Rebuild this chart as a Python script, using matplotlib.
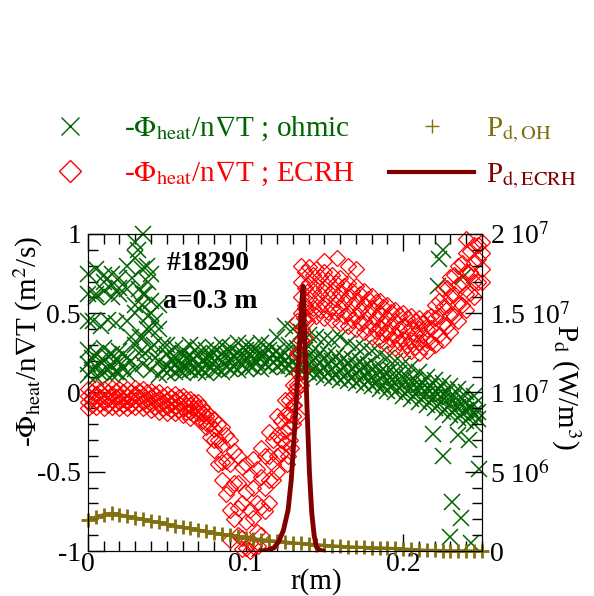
import matplotlib
matplotlib.use("Agg")
import matplotlib.pyplot as plt
from matplotlib.lines import Line2D
from matplotlib.ticker import MultipleLocator

plt.rcParams["font.family"] = ["Liberation Serif", "DejaVu Serif"]
plt.rcParams["mathtext.fontset"] = "stix"
plt.rcParams["axes.unicode_minus"] = False

GREEN = "#006400"
RED = "#ff0000"
OLIVE = "#807010"
DARKRED = "#800000"

# radial grids (m): most profiles sit on r_grid, the others on r_half
r_grid = [0.000, 0.005, 0.010, 0.015, 0.020, 0.025, 0.030, 0.035, 0.040, 0.045,
          0.050, 0.055, 0.060, 0.065, 0.070, 0.075, 0.080, 0.085, 0.090, 0.095,
          0.100, 0.105, 0.110, 0.115, 0.120, 0.125, 0.130, 0.135, 0.140, 0.145,
          0.150, 0.155, 0.160, 0.165, 0.170, 0.175, 0.180, 0.185, 0.190, 0.195,
          0.200, 0.205, 0.210, 0.215, 0.220, 0.225, 0.230, 0.235, 0.240, 0.245,
          0.250]
r_half = [0.0025, 0.0075, 0.0125, 0.0175, 0.0225, 0.0275, 0.0325, 0.0375, 0.0425, 0.0475,
          0.0525, 0.0575, 0.0625, 0.0675, 0.0725, 0.0775, 0.0825, 0.0875, 0.0925, 0.0975,
          0.1025, 0.1075, 0.1125, 0.1175, 0.1225, 0.1275, 0.1325, 0.1375, 0.1425, 0.1475,
          0.1525, 0.1575, 0.1625, 0.1675, 0.1725, 0.1775, 0.1825, 0.1875, 0.1925, 0.1975,
          0.2025, 0.2075, 0.2125, 0.2175, 0.2225, 0.2275, 0.2325, 0.2375, 0.2425, 0.2475]

# -Phi_heat / n grad T, ohmic phase (m^2/s); time slices on r_grid[:50]
ohm_low = [0.11, 0.10, 0.13, 0.11, 0.12, 0.12, 0.15, 0.18, 0.14, 0.11,
           0.12, 0.13, 0.12, 0.14, 0.13, 0.12, 0.14, 0.13, 0.15, 0.14,
           0.15, 0.16, 0.15, 0.16, 0.17, 0.16, 0.15, 0.14, 0.12, 0.11,
           0.10, 0.09, 0.08, 0.07, 0.06, 0.05, 0.04, 0.02, 0.01, 0.00,
           -0.02, -0.04, -0.06, -0.08, -0.10, -0.12, -0.14, -0.16, -0.18, -0.20]
ohm_mid = [0.18, 0.16, 0.20, 0.17, 0.19, 0.22, 0.30, 0.35, 0.28, 0.20,
           0.17, 0.18, 0.16, 0.19, 0.17, 0.18, 0.20, 0.19, 0.21, 0.20,
           0.22, 0.21, 0.23, 0.22, 0.21, 0.20, 0.20, 0.19, 0.18, 0.17,
           0.16, 0.15, 0.14, 0.13, 0.12, 0.11, 0.10, 0.09, 0.08, 0.06,
           0.05, 0.03, 0.01, -0.01, -0.03, -0.05, -0.07, -0.09, -0.11, -0.13]
ohm_high = [0.27, 0.25, 0.28, 0.24, 0.26, 0.45, 0.55, 0.62, 0.50, 0.40,
            0.24, 0.22, 0.25, 0.23, 0.24, 0.22, 0.25, 0.24, 0.26, 0.25,
            0.27, 0.26, 0.25, 0.27, 0.26, 0.25, 0.25, 0.24, 0.23, 0.22,
            0.21, 0.20, 0.19, 0.18, 0.17, 0.16, 0.14, 0.13, 0.12, 0.10,
            0.09, 0.07, 0.05, 0.03, 0.01, -0.01, -0.03, -0.05, -0.06, -0.08]
ohm_top = [0.45, 0.62, 0.70, 0.75, 0.66, 0.80, 0.95, 1.00, 0.75, 0.55,
           0.30, 0.28, 0.27, 0.30, 0.29, 0.27, 0.28, 0.30, 0.29, 0.31,
           0.30, 0.29, 0.31, 0.30, 0.35, 0.42, 0.40, 0.38, 0.36, 0.35,
           0.34, 0.33, 0.35, 0.31, 0.29, 0.28, 0.26, 0.24, 0.22, 0.20,
           0.18, 0.16, 0.13, 0.10, 0.08, 0.06, 0.04, 0.02, 0.00, -0.02]
# time slices on r_half
ohm_half_a = [0.14, 0.12, 0.15, 0.13, 0.16, 0.20, 0.25, 0.40, 0.22, 0.15,
              0.15, 0.14, 0.16, 0.15, 0.14, 0.16, 0.15, 0.17, 0.16, 0.18,
              0.17, 0.19, 0.18, 0.19, 0.18, 0.17, 0.16, 0.15, 0.14, 0.13,
              0.12, 0.11, 0.10, 0.09, 0.08, 0.07, 0.06, 0.05, 0.04, 0.03,
              0.01, -0.01, -0.03, -0.05, -0.07, -0.09, -0.11, -0.13, -0.15, -0.17]
ohm_half_b = [0.22, 0.20, 0.23, 0.21, 0.24, 0.35, 0.65, 0.80, 0.45, 0.30,
              0.21, 0.20, 0.22, 0.21, 0.20, 0.23, 0.22, 0.24, 0.23, 0.25,
              0.24, 0.26, 0.25, 0.24, 0.23, 0.30, 0.28, 0.27, 0.26, 0.25,
              0.24, 0.23, 0.22, 0.21, 0.20, 0.18, 0.17, 0.15, 0.14, 0.12,
              0.10, 0.08, 0.06, 0.04, 0.02, 0.00, -0.02, -0.04, -0.10, -0.12]
# near-axis rows, the spike at r~0.035 and the scattered edge points
ohm_extra_r = [0.000, 0.005, 0.010, 0.015, 0.020, 0.000, 0.005, 0.010, 0.015, 0.020,
               0.003, 0.008, 0.013, 0.018, 0.025, 0.028, 0.030, 0.032, 0.034, 0.036,
               0.038, 0.040, 0.042, 0.030, 0.034, 0.038, 0.033, 0.036, 0.040, 0.219,
               0.225, 0.231, 0.237, 0.230, 0.243, 0.248, 0.235, 0.242, 0.225, 0.223,
               0.222, 0.238]
ohm_extra_v = [0.75, 0.78, 0.74, 0.68, 0.72, 0.62, 0.60, 0.64, 0.60, 0.62,
               0.45, 0.42, 0.46, 0.44, 0.65, 0.72, 0.85, 0.90, 0.78, 0.62,
               0.48, 0.40, 0.30, 0.50, 0.55, 0.70, 0.35, 0.25, 0.58, -0.26,
               -0.40, -0.69, -0.79, -0.91, -0.95, -0.48, -0.27, -0.30, 0.90, 0.84,
               0.67, 0.73]

# -Phi_heat / n grad T, ECRH phase (m^2/s); time slices on r_grid, upper to lower
ecrh_1 = [0.02, 0.03, 0.02, 0.03, 0.02, 0.02, 0.03, 0.02, 0.01, 0.00,
          -0.01, -0.01, -0.02, -0.04, -0.06, -0.12, -0.17, -0.22, -0.30, -0.40,
          -0.45, -0.42, -0.35, -0.25, -0.15, -0.05, 0.05, 0.80, 0.79, 0.78,
          0.76, 0.74, 0.72, 0.69, 0.67, 0.64, 0.61, 0.58, 0.55, 0.52,
          0.50, 0.48, 0.47, 0.47, 0.55, 0.65, 0.73, 0.80, 0.88, 0.93, 0.95]
ecrh_3 = [-0.02, -0.01, -0.02, -0.01, -0.02, -0.02, -0.01, -0.02, -0.03, -0.04,
          -0.05, -0.05, -0.06, -0.08, -0.10, -0.15, -0.23, -0.33, -0.45, -0.57,
          -0.63, -0.60, -0.53, -0.40, -0.27, -0.14, -0.02, 0.70, 0.69, 0.68,
          0.66, 0.64, 0.63, 0.60, 0.58, 0.55, 0.53, 0.50, 0.47, 0.45,
          0.42, 0.41, 0.40, 0.40, 0.47, 0.54, 0.61, 0.68, 0.76, 0.82, 0.88]
ecrh_5 = [-0.06, -0.05, -0.06, -0.05, -0.06, -0.06, -0.05, -0.06, -0.07, -0.08,
          -0.09, -0.09, -0.10, -0.12, -0.13, -0.19, -0.30, -0.44, -0.60, -0.73,
          -0.82, -0.79, -0.72, -0.55, -0.40, -0.24, -0.08, 0.60, 0.59, 0.58,
          0.56, 0.54, 0.53, 0.50, 0.48, 0.45, 0.43, 0.41, 0.38, 0.36,
          0.34, 0.33, 0.32, 0.33, 0.38, 0.43, 0.49, 0.56, 0.62, 0.70, 0.78]
ecrh_7 = [-0.10, -0.09, -0.10, -0.09, -0.10, -0.10, -0.09, -0.10, -0.11, -0.12,
          -0.13, -0.13, -0.14, -0.16, -0.17, -0.22, -0.36, -0.55, -0.74, -0.90,
          -0.98, -0.97, -0.90, -0.70, -0.50, -0.32, -0.15, 0.50, 0.49, 0.48,
          0.47, 0.46, 0.44, 0.42, 0.40, 0.38, 0.35, 0.33, 0.30, 0.28,
          0.27, 0.26, 0.25, 0.26, 0.30, 0.33, 0.38, 0.45, 0.52, 0.60, 0.70]
# time slices on r_half
ecrh_2 = [0.00, 0.01, 0.00, 0.01, 0.00, 0.00, 0.01, 0.00, -0.01, -0.02,
          -0.03, -0.03, -0.04, -0.06, -0.09, -0.15, -0.20, -0.27, -0.37, -0.47,
          -0.52, -0.48, -0.40, -0.30, -0.18, -0.05, 0.45, 0.76, 0.74, 0.73,
          0.71, 0.69, 0.67, 0.64, 0.62, 0.59, 0.57, 0.54, 0.51, 0.49,
          0.47, 0.45, 0.44, 0.48, 0.58, 0.66, 0.74, 0.82, 0.89, 0.93]
ecrh_4 = [-0.04, -0.03, -0.04, -0.03, -0.04, -0.04, -0.03, -0.04, -0.05, -0.06,
          -0.07, -0.07, -0.08, -0.10, -0.13, -0.20, -0.30, -0.43, -0.57, -0.70,
          -0.74, -0.70, -0.60, -0.45, -0.30, -0.14, 0.25, 0.66, 0.64, 0.62,
          0.61, 0.59, 0.57, 0.55, 0.52, 0.50, 0.47, 0.44, 0.42, 0.40,
          0.38, 0.37, 0.36, 0.41, 0.48, 0.55, 0.62, 0.70, 0.76, 0.84]
ecrh_6 = [-0.08, -0.07, -0.08, -0.07, -0.08, -0.08, -0.07, -0.08, -0.09, -0.10,
          -0.11, -0.11, -0.12, -0.14, -0.18, -0.28, -0.45, -0.64, -0.80, -0.92,
          -0.95, -0.88, -0.75, -0.55, -0.38, -0.22, 0.05, 0.55, 0.53, 0.52,
          0.51, 0.50, 0.48, 0.46, 0.44, 0.41, 0.39, 0.37, 0.34, 0.32,
          0.30, 0.29, 0.29, 0.32, 0.36, 0.42, 0.48, 0.55, 0.63, 0.70]
# the jump at the deposition radius and a few stray points
ecrh_extra_r = [0.128, 0.130, 0.131, 0.132, 0.133, 0.134, 0.135, 0.136, 0.137, 0.138,
                0.126, 0.127, 0.129, 0.133, 0.135, 0.136, 0.138, 0.139,
                0.150, 0.158, 0.165, 0.170, 0.240, 0.090, 0.098, 0.103, 0.108]
ecrh_extra_v = [-0.30, -0.20, -0.08, 0.02, 0.12, 0.25, 0.33, 0.40, 0.47, 0.53,
                -0.45, -0.40, -0.35, -0.15, 0.05, 0.15, 0.35, 0.45,
                0.83, 0.85, 0.80, 0.78, 0.97, -0.93, -0.99, -1.00, -0.97]

# ohmic power density (10^6 W/m^3), on r_grid
p_oh = [1.96, 2.15, 2.30, 2.38, 2.30, 2.18, 2.10, 2.00, 1.88, 1.80,
        1.70, 1.60, 1.50, 1.42, 1.33, 1.24, 1.15, 1.06, 0.98, 0.92,
        0.85, 0.78, 0.72, 0.66, 0.62, 0.57, 0.52, 0.48, 0.44, 0.40,
        0.36, 0.33, 0.30, 0.27, 0.25, 0.23, 0.21, 0.20, 0.18, 0.16,
        0.13, 0.10, 0.07, 0.05, 0.04, 0.03, 0.02, 0.02, 0.01, 0.01,
        0.01]

# ECRH power density (10^6 W/m^3)
r_ecrh = [0.110, 0.114, 0.118, 0.121, 0.124, 0.127, 0.129, 0.131, 0.1325, 0.134,
          0.1355, 0.1365, 0.1375, 0.139, 0.1405, 0.142, 0.1435, 0.145, 0.147, 0.149]
p_ecrh = [0.0, 0.05, 0.2, 0.6, 1.3, 2.6, 4.5, 7.5, 10.0, 12.5,
          15.5, 16.7, 13.5, 9.0, 5.0, 2.4, 1.0, 0.25, 0.05, 0.0]

x_ticks = [0, 0.1, 0.2]
x_tick_labels = ["0", "0.1", "0.2"]
y_ticks = [-1, -0.5, 0, 0.5, 1]
y_tick_labels = ["-1", "-0.5", "0", "0.5", "1"]
p_ticks = [0, 5e6, 1e7, 1.5e7, 2e7]
p_tick_labels = ["0", "5 10$^{6}$", "1 10$^{7}$", "1.5 10$^{7}$", "2 10$^{7}$"]

legend_labels = ["-$\\Phi_{\\mathrm{heat}}$/n$\\nabla$T ; ohmic",
                 "-$\\Phi_{\\mathrm{heat}}$/n$\\nabla$T ; ECRH",
                 "P$_{\\mathrm{d,OH}}$",
                 "P$_{\\mathrm{d,ECRH}}$"]

fig = plt.figure(figsize=(5.94, 5.96), dpi=100)
ax = fig.add_axes([0.1481, 0.0755, 0.6633, 0.5319])
ax2 = ax.twinx()

# --- diffusivities (left axis) ---
x_style = dict(ls="none", marker="x", ms=11.5, mew=1.1, color=GREEN, clip_on=False)
for prof in (ohm_low, ohm_mid, ohm_high, ohm_top):
    ax.plot(r_grid[:50], prof, **x_style)
for prof in (ohm_half_a, ohm_half_b):
    ax.plot(r_half, prof, **x_style)
ax.plot(ohm_extra_r, ohm_extra_v, **x_style)

d_style = dict(ls="none", marker="D", ms=8.5, mew=0.9, mfc="none", color=RED, clip_on=False)
for prof in (ecrh_1, ecrh_3, ecrh_5, ecrh_7):
    ax.plot(r_grid, prof, **d_style)
for prof in (ecrh_2, ecrh_4, ecrh_6):
    ax.plot(r_half, prof, **d_style)
ax.plot(ecrh_extra_r, ecrh_extra_v, **d_style)

# --- power densities (right axis) ---
ax2.plot(r_grid, [p * 1e6 for p in p_oh], color=OLIVE, lw=2.2,
         marker="+", ms=10, mew=2.0, clip_on=False)
ax2.plot(r_ecrh, [p * 1e6 for p in p_ecrh], color=DARKRED, lw=3.5)

ax.set_xlim(0, 0.25)
ax.set_ylim(-1, 1)
ax2.set_ylim(0, 2e7)

ax.set_xticks(x_ticks)
ax.set_xticklabels(x_tick_labels)
ax.set_yticks(y_ticks)
ax.set_yticklabels(y_tick_labels)
ax.xaxis.set_minor_locator(MultipleLocator(0.01))
ax.yaxis.set_minor_locator(MultipleLocator(0.1))
ax2.set_yticks(p_ticks)
ax2.set_yticklabels(p_tick_labels)
ax2.yaxis.set_minor_locator(MultipleLocator(1e6))

ax.tick_params(which="both", direction="in", top=True, right=False, labelsize=20, width=1)
ax.tick_params(which="major", length=12)
ax.tick_params(which="minor", length=7)
ax.tick_params(axis="x", pad=1)
ax.tick_params(axis="y", pad=5)
ax2.tick_params(which="both", direction="in", labelsize=20, width=1, pad=6)
ax2.tick_params(which="major", length=12)
ax2.tick_params(which="minor", length=7)

ax.set_xlabel("r(m)", fontsize=21)
ax.xaxis.set_label_coords(0.579, -0.054)
ax.set_ylabel("-$\\Phi_{\\mathrm{heat}}$/n$\\nabla$T (m$^{2}$/s)", fontsize=21)
ax.yaxis.set_label_coords(-0.108, 0.66)
ax2.set_ylabel("P$_{\\mathrm{d}}$ (W/m$^{3}$)", fontsize=21, rotation=-90, va="bottom")
ax2.yaxis.set_label_coords(1.17, 0.517)

ax.text(0.20, 0.886, "#18290", transform=ax.transAxes, fontsize=20,
        fontweight="bold", va="baseline")
ax.text(0.19, 0.767, "a=0.3 m", transform=ax.transAxes, fontsize=20,
        fontweight="bold", va="baseline")

handles = [
    Line2D([], [], ls="none", marker="x", ms=13, mew=1.0, color=GREEN),
    Line2D([], [], ls="none", marker="D", ms=11, mew=1.0, mfc="none", color=RED),
    Line2D([], [], ls="none", marker="+", ms=10, mew=1.0, color=OLIVE),
    Line2D([], [], color=DARKRED, lw=3),
]
fig.legend(handles, legend_labels, ncol=2, loc="upper left",
           bbox_to_anchor=(0.047, 0.807), frameon=False, fontsize=21,
           handlelength=2.9, handletextpad=0.4, columnspacing=1.18,
           labelspacing=0.56, borderpad=0, borderaxespad=0,
           labelcolor="linecolor")

fig.savefig("out.png", dpi=100)
